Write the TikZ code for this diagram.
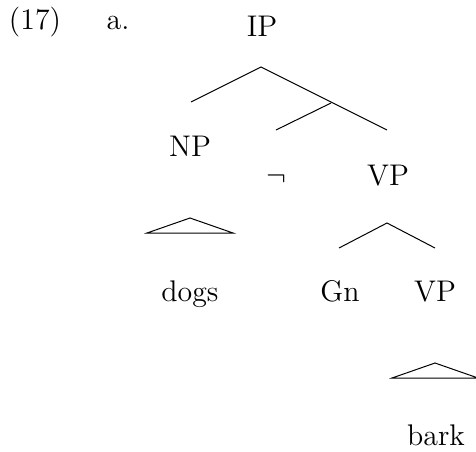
\documentclass[12pt,tikz,border=0pt]{standalone}
\usepackage{amsfonts, amsmath, amssymb}
\usepackage{tikz}

\begin{document}
\begin{tikzpicture}[x=0.402pt, y=-0.402pt]
                \useasboundingbox (0,0) rectangle (476,451);
                % Example number
                \node[anchor=base] (num) at (35,30) {(17)};
                \node[anchor=base] (sub) at (118,30) {a.};

                % IP splits into NP and the rest
                \node[anchor=base] (ip) at (262,37) {IP};
                \coordinate (ipTop) at (261,67);
                \coordinate (ipLeft) at (191,102);
                \coordinate (ipRight) at (387,130);
                \coordinate (iBar) at (331,103);
                \coordinate (iLeft) at (276,130);
                \draw (ipLeft) -- (ipTop) -- (ipRight);
                \draw (iBar) -- (iLeft);

                % NP with a roof over dogs
                \node[anchor=base] (np) at (190,156) {NP};
                \coordinate (npTop) at (190,218);
                \coordinate (npLeft) at (147,233);
                \coordinate (npRight) at (233,233);
                \draw (npTop) -- (npLeft) -- (npRight) -- cycle;
                \node[anchor=base] (dogs) at (190,301) {dogs};

                % negation and VP
                \node[anchor=base] (neg) at (276,185) {$\neg$};
                \node[anchor=base] (vp) at (388,185) {VP};
                \coordinate (vpTop) at (387,223);
                \coordinate (vpLeft) at (339,248);
                \coordinate (vpRight) at (435,248);
                \draw (vpLeft) -- (vpTop) -- (vpRight);

                % Gn and the lower VP
                \node[anchor=base] (gn) at (340,301) {Gn};
                \node[anchor=base] (vpLow) at (435,301) {VP};
                \coordinate (barkTop) at (435,363);
                \coordinate (barkLeft) at (392,378);
                \coordinate (barkRight) at (478,378);
                \draw (barkTop) -- (barkLeft) -- (barkRight) -- cycle;
                \node[anchor=base] (bark) at (436,445) {bark};
            \end{tikzpicture}
\end{document}
